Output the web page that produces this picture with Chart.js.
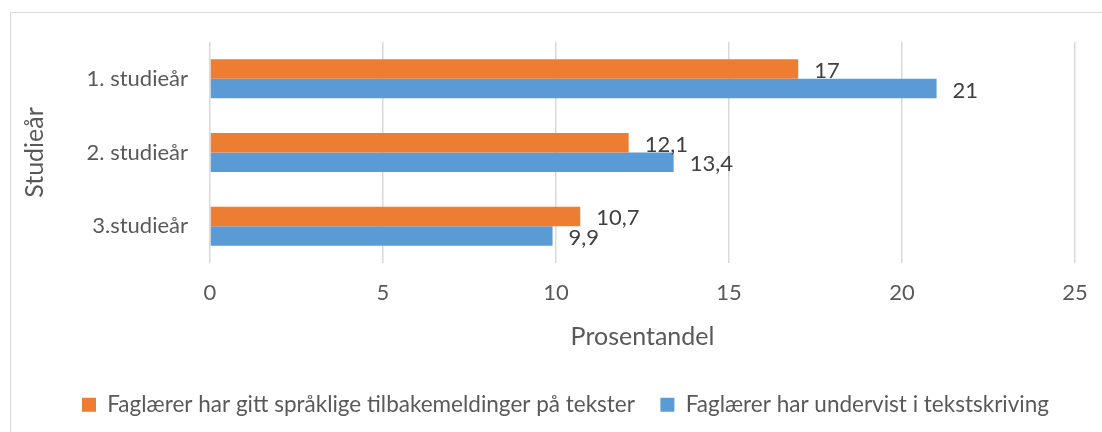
<!DOCTYPE html>
<html>
<head>
<meta charset="utf-8">
<script src="https://cdn.jsdelivr.net/npm/chart.js@4"></script>
<style>
  html, body { margin: 0; padding: 0; background: #fff; overflow: hidden; }
  #wrap { position: relative; width: 1102px; height: 432px; }
  #frame { position: absolute; left: 10px; top: 12px; width: 1200px; height: 600px; border: 1px solid #d9d9d9; box-sizing: border-box; }
  canvas { position: absolute; left: 0; top: 0; }
</style>
</head>
<body>
<div id="wrap">
  <div id="frame"></div>
  <canvas id="chart" width="1102" height="432"></canvas>
</div>
<script>
const categories = ['1. studieår', '2. studieår', '3.studieår'];
const seriesNames = [
  'Faglærer har gitt språklige tilbakemeldinger på tekster',
  'Faglærer har undervist i tekstskriving'
];
const feedbackValues = [17, 12.1, 10.7];
const teachingValues = [21, 13.4, 9.9];
const xTicks = [0, 5, 10, 15, 20, 25];

const FONT = 'Lato, "Open Sans", sans-serif';
const TEXT = '#595959';

// writes the value next to the end of each bar, with a comma as decimal sign
const valueLabels = {
  id: 'valueLabels',
  afterDatasetsDraw(chart) {
    const ctx = chart.ctx;
    ctx.save();
    ctx.font = '22px ' + FONT;
    ctx.fillStyle = '#404040';
    ctx.textAlign = 'left';
    ctx.textBaseline = 'middle';
    chart.data.datasets.forEach((ds, i) => {
      chart.getDatasetMeta(i).data.forEach((bar, j) => {
        const txt = String(ds.data[j]).replace('.', ',');
        ctx.fillText(txt, bar.x + 16, bar.y + 2);
      });
    });
    ctx.restore();
  }
};

// the legend in the original sits a bit right of centre
const legendShift = {
  id: 'legendShift',
  afterLayout(chart) {
    chart.legend.left += 46;
  }
};

new Chart(document.getElementById('chart'), {
  type: 'bar',
  data: {
    labels: categories,
    datasets: [
      {
        label: seriesNames[0],
        data: feedbackValues,
        backgroundColor: '#ED7D31',
        categoryPercentage: 0.53,
        barPercentage: 1.0,
      },
      {
        label: seriesNames[1],
        data: teachingValues,
        backgroundColor: '#5B9BD5',
        categoryPercentage: 0.53,
        barPercentage: 1.0,
      },
    ],
  },
  options: {
    indexAxis: 'y',
    responsive: false,
    animation: false,
    layout: { padding: { left: 10, right: 27, top: 42, bottom: 6 } },
    plugins: {
      tooltip: { enabled: false },
      legend: {
        position: 'bottom',
        labels: {
          font: { family: FONT, size: 22.5 },
          color: TEXT,
          boxWidth: 14,
          boxHeight: 14,
          padding: 25.5,
        },
      },
    },
    scales: {
      x: {
        min: 0,
        max: 25,
        afterBuildTicks: (scale) => { scale.ticks = xTicks.map(v => ({ value: v })); },
        afterFit: (scale) => {
          scale.height = 105;
          scale.paddingRight = 0;
        },
        grid: { color: '#d9d9d9', lineWidth: 1.5, drawTicks: false },
        border: { display: false },
        ticks: { font: { family: FONT, size: 22 }, color: TEXT, padding: 17 },
        title: {
          display: true,
          text: 'Prosentandel',
          font: { family: FONT, size: 25 },
          color: TEXT,
          padding: { top: 0, bottom: 16 },
        },
      },
      y: {
        afterFit: (scale) => { scale.width = 200; },
        grid: { display: false },
        border: { display: false },
        ticks: { font: { family: FONT, size: 22 }, color: TEXT, padding: 14 },
        title: {
          display: true,
          text: 'Studieår',
          font: { family: FONT, size: 25 },
          color: TEXT,
          padding: { top: 10, bottom: 0 },
        },
      },
    },
  },
  plugins: [valueLabels, legendShift],
});
</script>
</body>
</html>
